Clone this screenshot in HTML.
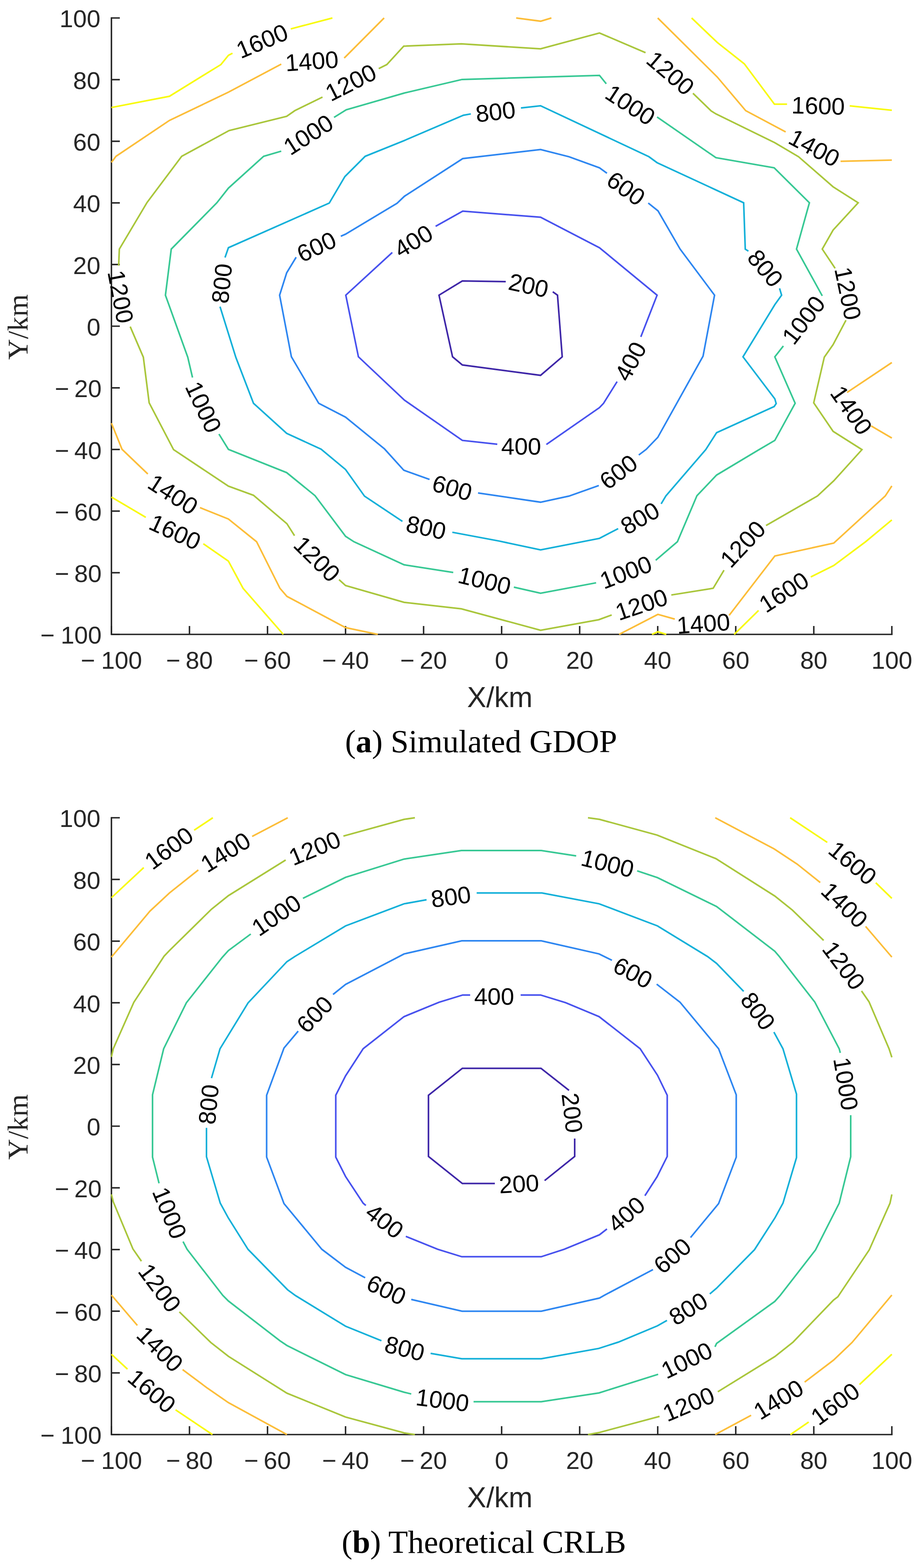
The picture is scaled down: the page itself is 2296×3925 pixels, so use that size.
<!DOCTYPE html>
<html><head><meta charset="utf-8"><title>GDOP vs CRLB</title>
<style>html,body{margin:0;padding:0;background:#fff}svg{display:block}</style></head>
<body><svg xmlns="http://www.w3.org/2000/svg" width="2296" height="3925" viewBox="0 0 2296 3925" font-family="'Liberation Sans', Arial, sans-serif">
<rect width="2296" height="3925" fill="#fff"/>
<path d="M279 45V1588H2233" fill="none" stroke="#262626" stroke-width="3.7" stroke-linecap="square"/>
<path d="M279 1588v-21M279 1588h21M474.4 1588v-21M279 1433.7h21M669.8 1588v-21M279 1279.4h21M865.2 1588v-21M279 1125.1h21M1060.6 1588v-21M279 970.8h21M1256 1588v-21M279 816.5h21M1451.4 1588v-21M279 662.2h21M1646.8 1588v-21M279 507.9h21M1842.2 1588v-21M279 353.6h21M2037.6 1588v-21M279 199.3h21M2233 1588v-21M279 45h21" fill="none" stroke="#262626" stroke-width="3.7"/>
<text x="279" y="1674.3" text-anchor="middle" font-size="61.5" fill="#262626">−<tspan dx="15">100</tspan></text>
<text x="254.5" y="1611.4" text-anchor="end" font-size="61.5" fill="#262626">−<tspan dx="15">100</tspan></text>
<text x="474.4" y="1674.3" text-anchor="middle" font-size="61.5" fill="#262626">−<tspan dx="13">80</tspan></text>
<text x="254.5" y="1457.1" text-anchor="end" font-size="61.5" fill="#262626">−<tspan dx="13">80</tspan></text>
<text x="669.8" y="1674.3" text-anchor="middle" font-size="61.5" fill="#262626">−<tspan dx="13">60</tspan></text>
<text x="254.5" y="1302.8" text-anchor="end" font-size="61.5" fill="#262626">−<tspan dx="13">60</tspan></text>
<text x="865.2" y="1674.3" text-anchor="middle" font-size="61.5" fill="#262626">−<tspan dx="13">40</tspan></text>
<text x="254.5" y="1148.5" text-anchor="end" font-size="61.5" fill="#262626">−<tspan dx="13">40</tspan></text>
<text x="1060.6" y="1674.3" text-anchor="middle" font-size="61.5" fill="#262626">−<tspan dx="13">20</tspan></text>
<text x="254.5" y="994.2" text-anchor="end" font-size="61.5" fill="#262626">−<tspan dx="13">20</tspan></text>
<text x="1256" y="1674.3" text-anchor="middle" font-size="61.5" fill="#262626">0</text>
<text x="251.5" y="839.9" text-anchor="end" font-size="61.5" fill="#262626">0</text>
<text x="1451.4" y="1674.3" text-anchor="middle" font-size="61.5" fill="#262626">20</text>
<text x="251.5" y="685.6" text-anchor="end" font-size="61.5" fill="#262626">20</text>
<text x="1646.8" y="1674.3" text-anchor="middle" font-size="61.5" fill="#262626">40</text>
<text x="251.5" y="531.3" text-anchor="end" font-size="61.5" fill="#262626">40</text>
<text x="1842.2" y="1674.3" text-anchor="middle" font-size="61.5" fill="#262626">60</text>
<text x="251.5" y="377" text-anchor="end" font-size="61.5" fill="#262626">60</text>
<text x="2037.6" y="1674.3" text-anchor="middle" font-size="61.5" fill="#262626">80</text>
<text x="251.5" y="222.7" text-anchor="end" font-size="61.5" fill="#262626">80</text>
<text x="2233" y="1674.3" text-anchor="middle" font-size="61.5" fill="#262626">100</text>
<text x="251.5" y="68.4" text-anchor="end" font-size="61.5" fill="#262626">100</text>
<text x="1251.5" y="1769.9" text-anchor="middle" font-size="72" fill="#262626">X/km</text>
<text transform="translate(69,818.5) rotate(-90)" text-anchor="middle" font-size="72" font-family="'Liberation Serif', 'Times New Roman', serif" fill="#262626">Y/km</text>
<path d="M1384 730.4 1395.9 738.9 1407.7 893.2 1353.5 939.6 1157.6 913.5 1133.1 893.1 1099.2 738.9 1157.6 703.2 1266.3 705" fill="none" stroke="#3E26A8" stroke-width="4.0" stroke-linejoin="miter" stroke-miterlimit="3"/>
<path d="M1090.7 566.5 1158.6 528.5 1353.5 543.8 1501 620.1 1645.2 738.9 1604.5 843.3M1545.1 955.2 1511.2 1009.5 1501 1020.3 1368 1112.6M1245.1 1111.9 1157.6 1102.4 1012.7 1001.7 897.4 893.1 865.8 738.9 982.2 632" fill="none" stroke="#4751EE" stroke-width="4.0" stroke-linejoin="miter" stroke-miterlimit="3"/>
<path d="M853.3 591.3 865.2 586.2 994.1 508.9 1012.7 491.2 1158.6 397 1353.5 374.3 1424.7 392.3 1501 420.1 1519.7 433.7M1623.1 508.3 1647.6 527.9 1702.8 623.5 1789.1 738.9 1760.3 891.5 1646.9 1094.9 1618 1124.8 1599.4 1139M1499.3 1215.3 1424.7 1241.8 1353.5 1257.1 1196.9 1234M1075.5 1200.1 1011 1177 962.8 1123.8 865.2 1044.1 798 1009.5 729.6 893.1 700.1 738.9 717.8 682.9 741.5 643.9" fill="none" stroke="#2D86F1" stroke-width="4.0" stroke-linejoin="miter" stroke-miterlimit="3"/>
<path d="M1304.3 270.2 1353.5 264.7 1624.8 392.3 1645.2 407.2 1862 507.6 1866 623.6 1873.9 628.6M1951.9 721.9 1957 738.9 1940 762.6 1860.3 893.2 1940 998.3 1943.4 1010.1 1938.4 1017.6 1794.2 1083.1 1767 1125.5 1667.2 1241.5 1655.4 1261.2M1547.8 1323.2 1501 1347.6 1353.5 1376.5 1250 1354.4 1132.5 1332.4M1007.6 1305.2 912.6 1241.8 865.2 1175.3 804.1 1124.4 717.8 1084.8 634.7 1009.5 590.6 894.8 550.9 767.7M563.4 644.6 571.9 620.1 824.5 508.3 863.5 442.1 914.3 391.3 1011 352.3 1160.3 288.5 1178.9 285.1" fill="none" stroke="#13B0D9" stroke-width="4.0" stroke-linejoin="miter" stroke-miterlimit="3"/>
<path d="M836.3 293.9 866.9 274.9 1012.7 232.8 1156.9 198.9 1501 188.8 1518 209.8M1645.2 292.9 1792.5 394.7 1938.4 420.1 2026.6 507.6 1994.3 623.5 2058.8 740.6M1961.4 866.1 1940 893.2 1990.9 1009.5 1940 1102.4 1897.6 1127.2 1794.2 1189.2 1745 1240.8 1696.1 1356.1 1641.8 1402.6M1492.5 1458.9 1353.5 1485 1286.6 1469.7M1134.8 1433.1 1011.7 1413.8 886.2 1356.1 865.2 1342.5 788.8 1240.8 717.8 1183.1 571.9 1124.8 548.2 1086.5M482 945 470.1 894.1 414.2 738.9 428.8 623.5 543.1 507.5 571.9 470.9 660.1 391.3 704.2 378.4" fill="none" stroke="#37C894" stroke-width="4.0" stroke-linejoin="miter" stroke-miterlimit="3"/>
<path d="M948.3 171.8 968.6 161.6 1011 115.5 1155.2 109.7 1353.5 122.3 1501 82.6 1616.3 131.8M1735 233.5 1780.6 277.6 1792.5 285.1 1940 357.3 1999.4 392.3 2085.9 467.6 2148.7 507.6 2085.9 576 2058.8 623.5 2091 671.7M2118.1 801.6 2085.9 862.7 2063.9 894.1 2037.4 1008.4 2085.9 1079.7 2158.2 1125.5 2087.6 1203.5 2046.9 1241.5 1918 1315.4M1812.8 1427.3 1785.7 1472.5 1680.8 1489.4M1531.6 1539.3 1499.3 1551.2 1353.5 1577.6 1155.2 1524 1011.7 1507.7 865.2 1465.7 848.9 1451.1M737.4 1340.8 718.4 1311 634.7 1239.8 571.9 1217 434.5 1125.4 373.5 1008.4 358.9 894.1 326 817.6M297.1 664.9 298.8 623.5 368.4 506.5 454.9 391.3 573.6 326.8 717.8 291.2 738.1 277 807.5 243" fill="none" stroke="#A9C63B" stroke-width="4.0" stroke-linejoin="miter" stroke-miterlimit="3"/>
<path d="M279 406.5 290.4 391.3 424.3 301.4 571.9 230.8 704.2 160.6M861.8 145.3 865.2 142 961.8 45M1292.4 45 1353.7 53.1 1380.6 45M1646.8 45 1795.9 192.8 1867.1 277 1967.2 330.2M2104.6 403.8 2233 400.8M2233 907.5 2120.9 982.3M2180.9 1066.1 2233 1096.6M2233 1216.4 2216.5 1241.5 2087.6 1359.5 1940 1391.7 1825.7 1540.3M1689.6 1549.7 1647.2 1537.9 1550.2 1588M945.9 1588 865.2 1571 718.4 1492.8 700.8 1472.5 642.5 1356.1 571.9 1299.2 500.7 1270.7M370.1 1186.5 305.6 1124.8 279 1059.3" fill="none" stroke="#FCBD38" stroke-width="4.0" stroke-linejoin="miter" stroke-miterlimit="3"/>
<path d="M279 269.1 424.3 241 553.2 161.6 571.9 138.5 582.1 133.3M728 72.4 832.3 45M1731.7 45 1795.9 106.3 1863.7 159.9 1939 260.7 1970.6 260.7M2127.6 265.1 2233 275.9M2233 1301.5 2167.3 1356.1 2087.6 1415.5 2030 1444.3M1899.3 1528.1 1838.3 1588M1632.6 1588 1647.2 1581.3 1668.2 1588M709.3 1588 608.5 1472.5 571.9 1404.6 509.1 1361.2M365 1295 279 1244.2" fill="none" stroke="#F8FA0D" stroke-width="4.0" stroke-linejoin="miter" stroke-miterlimit="3"/>
<text transform="translate(656,102.2) rotate(-22.7)" x="0" y="21.5" text-anchor="middle" font-size="60" fill="#000">1600</text>
<text transform="translate(780.7,152.4) rotate(-4)" x="0" y="21.5" text-anchor="middle" font-size="60" fill="#000">1400</text>
<text transform="translate(878.1,205.9) rotate(-26.8)" x="0" y="21.5" text-anchor="middle" font-size="60" fill="#000">1200</text>
<text transform="translate(771.6,336.7) rotate(-32.6)" x="0" y="21.5" text-anchor="middle" font-size="60" fill="#000">1000</text>
<text transform="translate(1240.6,279.1) rotate(-6.8)" x="0" y="21.5" text-anchor="middle" font-size="60" fill="#000">800</text>
<text transform="translate(1679.2,182.5) rotate(40.6)" x="0" y="21.5" text-anchor="middle" font-size="60" fill="#000">1200</text>
<text transform="translate(1578.5,262.1) rotate(33.2)" x="0" y="21.5" text-anchor="middle" font-size="60" fill="#000">1000</text>
<text transform="translate(2048.6,264.1) rotate(1.6)" x="0" y="21.5" text-anchor="middle" font-size="60" fill="#000">1600</text>
<text transform="translate(2039.3,369.6) rotate(28.2)" x="0" y="21.5" text-anchor="middle" font-size="60" fill="#000">1400</text>
<text transform="translate(1567.7,471.3) rotate(35.8)" x="0" y="21.5" text-anchor="middle" font-size="60" fill="#000">600</text>
<text transform="translate(1916.7,671.1) rotate(50.1)" x="0" y="21.5" text-anchor="middle" font-size="60" fill="#000">800</text>
<text transform="translate(2123.7,734.5) rotate(78.2)" x="0" y="21.5" text-anchor="middle" font-size="60" fill="#000">1200</text>
<text transform="translate(2011.5,800.6) rotate(-52.2)" x="0" y="21.5" text-anchor="middle" font-size="60" fill="#000">1000</text>
<text transform="translate(1578.2,904.1) rotate(-62)" x="0" y="21.5" text-anchor="middle" font-size="60" fill="#000">400</text>
<text transform="translate(1304.9,1116.5) rotate(0)" x="0" y="21.5" text-anchor="middle" font-size="60" fill="#000">400</text>
<text transform="translate(1548.3,1180.7) rotate(-37.3)" x="0" y="21.5" text-anchor="middle" font-size="60" fill="#000">600</text>
<text transform="translate(1602.2,1296.6) rotate(-30)" x="0" y="21.5" text-anchor="middle" font-size="60" fill="#000">800</text>
<text transform="translate(1566.8,1431.8) rotate(-20.7)" x="0" y="21.5" text-anchor="middle" font-size="60" fill="#000">1000</text>
<text transform="translate(1605.9,1512.8) rotate(-18.5)" x="0" y="21.5" text-anchor="middle" font-size="60" fill="#000">1200</text>
<text transform="translate(1859.5,1361.4) rotate(-46.8)" x="0" y="21.5" text-anchor="middle" font-size="60" fill="#000">1200</text>
<text transform="translate(1962.4,1481.8) rotate(-32.7)" x="0" y="21.5" text-anchor="middle" font-size="60" fill="#000">1600</text>
<text transform="translate(1761.1,1560.3) rotate(-4)" x="0" y="21.5" text-anchor="middle" font-size="60" fill="#000">1400</text>
<text transform="translate(1213.3,1452.7) rotate(13.6)" x="0" y="21.5" text-anchor="middle" font-size="60" fill="#000">1000</text>
<text transform="translate(1067.1,1319.9) rotate(12.3)" x="0" y="21.5" text-anchor="middle" font-size="60" fill="#000">800</text>
<text transform="translate(1132.5,1220.5) rotate(15.6)" x="0" y="21.5" text-anchor="middle" font-size="60" fill="#000">600</text>
<text transform="translate(794.1,1398.8) rotate(44.7)" x="0" y="21.5" text-anchor="middle" font-size="60" fill="#000">1200</text>
<text transform="translate(438.6,1331.1) rotate(24.7)" x="0" y="21.5" text-anchor="middle" font-size="60" fill="#000">1600</text>
<text transform="translate(433.5,1237) rotate(32.8)" x="0" y="21.5" text-anchor="middle" font-size="60" fill="#000">1400</text>
<text transform="translate(510,1018.7) rotate(64.9)" x="0" y="21.5" text-anchor="middle" font-size="60" fill="#000">1000</text>
<text transform="translate(302.6,742.7) rotate(79.3)" x="0" y="21.5" text-anchor="middle" font-size="60" fill="#000">1200</text>
<text transform="translate(555,709.6) rotate(-84.2)" x="0" y="21.5" text-anchor="middle" font-size="60" fill="#000">800</text>
<text transform="translate(792.2,617.2) rotate(-25.2)" x="0" y="21.5" text-anchor="middle" font-size="60" fill="#000">600</text>
<text transform="translate(1034.8,602.9) rotate(-31.1)" x="0" y="21.5" text-anchor="middle" font-size="60" fill="#000">400</text>
<text transform="translate(1323.6,713.9) rotate(12.2)" x="0" y="21.5" text-anchor="middle" font-size="60" fill="#000">200</text>
<text transform="translate(2132.2,1026.3) rotate(55)" x="0" y="21.5" text-anchor="middle" font-size="60" fill="#000">1400</text>
<path d="M279 2047V3591H2233" fill="none" stroke="#262626" stroke-width="3.7" stroke-linecap="square"/>
<path d="M279 3591v-21M279 3591h21M474.4 3591v-21M279 3436.6h21M669.8 3591v-21M279 3282.2h21M865.2 3591v-21M279 3127.8h21M1060.6 3591v-21M279 2973.4h21M1256 3591v-21M279 2819h21M1451.4 3591v-21M279 2664.6h21M1646.8 3591v-21M279 2510.2h21M1842.2 3591v-21M279 2355.8h21M2037.6 3591v-21M279 2201.4h21M2233 3591v-21M279 2047h21" fill="none" stroke="#262626" stroke-width="3.7"/>
<text x="279" y="3677.3" text-anchor="middle" font-size="61.5" fill="#262626">−<tspan dx="15">100</tspan></text>
<text x="254.5" y="3614.4" text-anchor="end" font-size="61.5" fill="#262626">−<tspan dx="15">100</tspan></text>
<text x="474.4" y="3677.3" text-anchor="middle" font-size="61.5" fill="#262626">−<tspan dx="13">80</tspan></text>
<text x="254.5" y="3460" text-anchor="end" font-size="61.5" fill="#262626">−<tspan dx="13">80</tspan></text>
<text x="669.8" y="3677.3" text-anchor="middle" font-size="61.5" fill="#262626">−<tspan dx="13">60</tspan></text>
<text x="254.5" y="3305.6" text-anchor="end" font-size="61.5" fill="#262626">−<tspan dx="13">60</tspan></text>
<text x="865.2" y="3677.3" text-anchor="middle" font-size="61.5" fill="#262626">−<tspan dx="13">40</tspan></text>
<text x="254.5" y="3151.2" text-anchor="end" font-size="61.5" fill="#262626">−<tspan dx="13">40</tspan></text>
<text x="1060.6" y="3677.3" text-anchor="middle" font-size="61.5" fill="#262626">−<tspan dx="13">20</tspan></text>
<text x="254.5" y="2996.8" text-anchor="end" font-size="61.5" fill="#262626">−<tspan dx="13">20</tspan></text>
<text x="1256" y="3677.3" text-anchor="middle" font-size="61.5" fill="#262626">0</text>
<text x="251.5" y="2842.4" text-anchor="end" font-size="61.5" fill="#262626">0</text>
<text x="1451.4" y="3677.3" text-anchor="middle" font-size="61.5" fill="#262626">20</text>
<text x="251.5" y="2688" text-anchor="end" font-size="61.5" fill="#262626">20</text>
<text x="1646.8" y="3677.3" text-anchor="middle" font-size="61.5" fill="#262626">40</text>
<text x="251.5" y="2533.6" text-anchor="end" font-size="61.5" fill="#262626">40</text>
<text x="1842.2" y="3677.3" text-anchor="middle" font-size="61.5" fill="#262626">60</text>
<text x="251.5" y="2379.2" text-anchor="end" font-size="61.5" fill="#262626">60</text>
<text x="2037.6" y="3677.3" text-anchor="middle" font-size="61.5" fill="#262626">80</text>
<text x="251.5" y="2224.8" text-anchor="end" font-size="61.5" fill="#262626">80</text>
<text x="2233" y="3677.3" text-anchor="middle" font-size="61.5" fill="#262626">100</text>
<text x="251.5" y="2070.4" text-anchor="end" font-size="61.5" fill="#262626">100</text>
<text x="1251.5" y="3772.9" text-anchor="middle" font-size="72" fill="#262626">X/km</text>
<text transform="translate(69,2821) rotate(-90)" text-anchor="middle" font-size="72" font-family="'Liberation Serif', 'Times New Roman', serif" fill="#262626">Y/km</text>
<path d="M1438.9 2850.1 1438.9 2894.9 1363.6 2955.2M1239 2962.6 1157.6 2962.6 1072.8 2894.9 1072.8 2741.6 1157.6 2674.2 1354.5 2674.2 1424.7 2729.4" fill="none" stroke="#3E26A8" stroke-width="4.0" stroke-linejoin="miter" stroke-miterlimit="3"/>
<path d="M1303.6 2490.7 1353.5 2490.7 1416.2 2509.9 1500 2544.8 1602.8 2625.2 1646.2 2691.4 1670.6 2741.6 1670.6 2894.9 1645.2 2945.7 1614.7 2993.2M1519.7 3076.3 1501 3090.9 1412.8 3127.2 1355.2 3145.8 1156.2 3145.8 1095.8 3127.2 1016.1 3094.9M916 3017.6 909.3 3011.8 865.2 2945 840.7 2896.5 840.7 2741.6 865.2 2693.1 909.3 2625.2 1011.7 2544.8 1099.2 2508.9 1158.6 2490.7 1177.2 2490.7" fill="none" stroke="#4751EE" stroke-width="4.0" stroke-linejoin="miter" stroke-miterlimit="3"/>
<path d="M833.8 2489.4 865.2 2464.2 1011.7 2387.9 1156.2 2355 1355.2 2355 1500 2387.9 1532.2 2403.8M1644.2 2463.5 1702.8 2508.9 1799.3 2625.2 1843.4 2740.6 1843.4 2896.6 1799.3 3012.8 1729 3097.7M1635 3178 1512.9 3242.5 1501 3249.3 1355.2 3282.2 1156.9 3282.2 1029.7 3252.7M914.3 3198.4 865.2 3172.3 805.8 3127.2 711 3012.8 667.6 2896.5 667.6 2741.6 711 2623.5 746.6 2581.1" fill="none" stroke="#2D86F1" stroke-width="4.0" stroke-linejoin="miter" stroke-miterlimit="3"/>
<path d="M1193.5 2235.2 1356.9 2235.2 1500 2262.4 1646.2 2317.7 1772.1 2394.7 1794.2 2411.6 1862 2481.7M1937.7 2583.5 1960.4 2625.2 1994.3 2738.9 1994.3 2897.6 1960.4 3011.8 1940 3049.1 1889.2 3128.2 1794.2 3224.6 1777.2 3239M1670 3305.2 1646.2 3318.8 1548.5 3359.5 1499.3 3375.4 1355.2 3401.2 1156.2 3401.2 1078.2 3387.7M955 3356.1 865.2 3319.8 739.8 3243 720 3228.5 621.1 3127.5 571.9 3049.1 551.5 3011.8 517 2895.5 517 2823.3M529.5 2698.8 550.9 2625.2 621.1 2510.5 718.4 2407.2 738.1 2394.4 865.2 2317.7 1011.7 2262.4 1068 2252.2" fill="none" stroke="#13B0D9" stroke-width="4.0" stroke-linejoin="miter" stroke-miterlimit="3"/>
<path d="M1595.3 2179.9 1646.2 2196.9 1794.2 2269.1 1940 2381.1 1951.2 2394.3 2040.1 2508.3 2101.2 2625.2 2103.9 2635.4M2130 2791.4 2130 2895.5 2101.2 3011.8 2041.8 3128.9 1953.6 3242.5 1940 3257.7 1794.2 3362.9 1790.2 3371.4M1647.9 3440.2 1500 3486.7 1355.2 3508.8 1185.7 3508.8M1029.7 3489.4 1011.7 3485 865.2 3440.9 718.4 3368 700.8 3356.1 571.9 3256.7 557.7 3242.5 468.4 3127.2 458.3 3107.8M398.2 2962 381.9 2896.5 381.9 2740.6 409.8 2625.2 466.7 2510 556.6 2396.3 571.9 2379.4 627.9 2338M758.5 2248.8 865.2 2196.2 1011.7 2150.4 1155.2 2129 1355.2 2129 1442.7 2142.6" fill="none" stroke="#37C894" stroke-width="4.0" stroke-linejoin="miter" stroke-miterlimit="3"/>
<path d="M279 2645.6 283.6 2625.2 335.1 2508.9 410.8 2393.6 424.3 2379.4 529.5 2275.9 571.9 2242 715.3 2152.8M859.8 2092.9 1011.7 2051 1038.8 2047M1472.2 2047 1501 2051 1645.2 2090.4 1792.5 2149.4 1940 2243 1984.1 2278.3 2062.2 2354M2157.1 2480.5 2175.8 2507.5 2226 2625.2 2233 2646.6M2233 2989.8 2228.4 3011.8 2176.5 3128.5 2097.8 3246.2 2087 3254.3 1985.8 3359.5 1940 3395.8 1797.3 3483.9M1651.4 3545.5 1501 3585.7 1472.2 3591M1038.8 3591 1011.7 3586.8 865.2 3547.1 718.4 3487.4 571.9 3395.1 527.8 3360.5 449.1 3283.9M354.1 3157 332.8 3126.3 283.6 3008.4 279 2989.8" fill="none" stroke="#A9C63B" stroke-width="4.0" stroke-linejoin="miter" stroke-miterlimit="3"/>
<path d="M279 2395.7 375.2 2281 424.3 2235.2 496.6 2177.6M631.3 2093.8 720.5 2047M1790.8 2047 1938.4 2125 1996 2163 2053.7 2209.1M2167.3 2319 2233 2395.7M2233 3241.8 2133.4 3360.5 2087 3404.6 2014.7 3459.6M1880.7 3542.7 1790.8 3591M718.4 3591 571.9 3511.1 517 3473.1 457.2 3428.4M343.9 3317.8 279 3241.8" fill="none" stroke="#FCBD38" stroke-width="4.0" stroke-linejoin="miter" stroke-miterlimit="3"/>
<path d="M279 2247.1 359.9 2171.8M486.1 2078.2 532.9 2047M1978.4 2047 2071.3 2108.7M2192.8 2209.8 2233 2248.8M2233 3390 2152 3465.7M2024.8 3559.6 1979.1 3591M279 3390 319.2 3427.3M439.6 3529.1 531.9 3591" fill="none" stroke="#F8FA0D" stroke-width="4.0" stroke-linejoin="miter" stroke-miterlimit="3"/>
<text transform="translate(422.5,2122.4) rotate(-36.6)" x="0" y="21.5" text-anchor="middle" font-size="60" fill="#000">1600</text>
<text transform="translate(564.2,2132.7) rotate(-31.9)" x="0" y="21.5" text-anchor="middle" font-size="60" fill="#000">1400</text>
<text transform="translate(787.7,2122.6) rotate(-22.5)" x="0" y="21.5" text-anchor="middle" font-size="60" fill="#000">1200</text>
<text transform="translate(691.5,2290.3) rotate(-34.3)" x="0" y="21.5" text-anchor="middle" font-size="60" fill="#000">1000</text>
<text transform="translate(1128.8,2244.1) rotate(-7.7)" x="0" y="21.5" text-anchor="middle" font-size="60" fill="#000">800</text>
<text transform="translate(1521.4,2160.7) rotate(13.7)" x="0" y="21.5" text-anchor="middle" font-size="60" fill="#000">1000</text>
<text transform="translate(2135.3,2159.8) rotate(39.8)" x="0" y="21.5" text-anchor="middle" font-size="60" fill="#000">1600</text>
<text transform="translate(2114.9,2265) rotate(44)" x="0" y="21.5" text-anchor="middle" font-size="60" fill="#000">1400</text>
<text transform="translate(2113.2,2416.5) rotate(53.1)" x="0" y="21.5" text-anchor="middle" font-size="60" fill="#000">1200</text>
<text transform="translate(1585,2434.5) rotate(28.1)" x="0" y="21.5" text-anchor="middle" font-size="60" fill="#000">600</text>
<text transform="translate(1898.4,2530.5) rotate(53.4)" x="0" y="21.5" text-anchor="middle" font-size="60" fill="#000">800</text>
<text transform="translate(2118.4,2712.8) rotate(80.5)" x="0" y="21.5" text-anchor="middle" font-size="60" fill="#000">1000</text>
<text transform="translate(787.6,2538.6) rotate(-46.3)" x="0" y="21.5" text-anchor="middle" font-size="60" fill="#000">600</text>
<text transform="translate(1237.2,2493.2) rotate(0)" x="0" y="21.5" text-anchor="middle" font-size="60" fill="#000">400</text>
<text transform="translate(521.8,2764.5) rotate(-84.3)" x="0" y="21.5" text-anchor="middle" font-size="60" fill="#000">800</text>
<text transform="translate(1433.3,2785.7) rotate(83.3)" x="0" y="21.5" text-anchor="middle" font-size="60" fill="#000">200</text>
<text transform="translate(1299.5,2962.9) rotate(-3.4)" x="0" y="21.5" text-anchor="middle" font-size="60" fill="#000">200</text>
<text transform="translate(425.2,3035.9) rotate(67.6)" x="0" y="21.5" text-anchor="middle" font-size="60" fill="#000">1000</text>
<text transform="translate(963.4,3056.2) rotate(37.7)" x="0" y="21.5" text-anchor="middle" font-size="60" fill="#000">400</text>
<text transform="translate(1567.7,3039.2) rotate(-41.2)" x="0" y="21.5" text-anchor="middle" font-size="60" fill="#000">400</text>
<text transform="translate(1683.1,3142.9) rotate(-40.5)" x="0" y="21.5" text-anchor="middle" font-size="60" fill="#000">600</text>
<text transform="translate(400.4,3223.3) rotate(53.2)" x="0" y="21.5" text-anchor="middle" font-size="60" fill="#000">1200</text>
<text transform="translate(967.9,3228.1) rotate(25.2)" x="0" y="21.5" text-anchor="middle" font-size="60" fill="#000">600</text>
<text transform="translate(1723,3275.4) rotate(-31.7)" x="0" y="21.5" text-anchor="middle" font-size="60" fill="#000">800</text>
<text transform="translate(401,3376.5) rotate(44.3)" x="0" y="21.5" text-anchor="middle" font-size="60" fill="#000">1400</text>
<text transform="translate(1013.4,3374.8) rotate(14.4)" x="0" y="21.5" text-anchor="middle" font-size="60" fill="#000">800</text>
<text transform="translate(1719.1,3404.5) rotate(-25.8)" x="0" y="21.5" text-anchor="middle" font-size="60" fill="#000">1000</text>
<text transform="translate(380.7,3481.6) rotate(40.2)" x="0" y="21.5" text-anchor="middle" font-size="60" fill="#000">1600</text>
<text transform="translate(1108,3504.2) rotate(7.1)" x="0" y="21.5" text-anchor="middle" font-size="60" fill="#000">1000</text>
<text transform="translate(1723.9,3514.3) rotate(-22.9)" x="0" y="21.5" text-anchor="middle" font-size="60" fill="#000">1200</text>
<text transform="translate(1948.8,3502.7) rotate(-31.8)" x="0" y="21.5" text-anchor="middle" font-size="60" fill="#000">1400</text>
<text transform="translate(2090.8,3513.6) rotate(-36.4)" x="0" y="21.5" text-anchor="middle" font-size="60" fill="#000">1600</text>
<text x="864" y="1883.3" font-family="'Liberation Serif', 'Times New Roman', serif" font-size="80" fill="#000" textLength="681" lengthAdjust="spacingAndGlyphs">(<tspan font-weight="bold">a</tspan>) Simulated GDOP</text>
<text x="855.5" y="3886.5" font-family="'Liberation Serif', 'Times New Roman', serif" font-size="80" fill="#000" textLength="712" lengthAdjust="spacingAndGlyphs">(<tspan font-weight="bold">b</tspan>) Theoretical CRLB</text>
</svg></body></html>
